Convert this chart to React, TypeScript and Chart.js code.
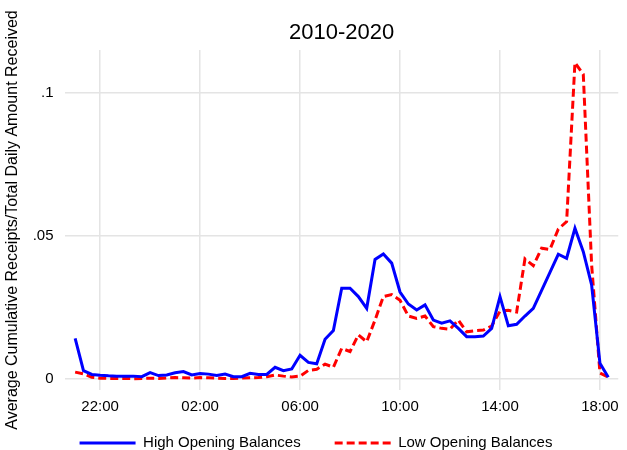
import React, { useEffect, useRef } from "react";
import { Chart, registerables } from "chart.js";

Chart.register(...registerables);

const chartTitle = "2010-2020";
const yAxisTitle = "Average Cumulative Receipts/Total Daily Amount Received";

const times = [
  "21:00", "21:20", "21:40", "22:00", "22:20", "22:40", "23:00", "23:20", "23:40",
  "00:00", "00:20", "00:40", "01:00", "01:20", "01:40", "02:00", "02:20", "02:40",
  "03:00", "03:20", "03:40", "04:00", "04:20", "04:40", "05:00", "05:20", "05:40",
  "06:00", "06:20", "06:40", "07:00", "07:20", "07:40", "08:00", "08:20", "08:40",
  "09:00", "09:20", "09:40", "10:00", "10:20", "10:40", "11:00", "11:20", "11:40",
  "12:00", "12:20", "12:40", "13:00", "13:20", "13:40", "14:00", "14:20", "14:40",
  "15:00", "15:20", "15:40", "16:00", "16:20", "16:40", "17:00", "17:20", "17:40",
  "18:00", "18:20",
];

const highOpening = [
  0.0142, 0.0029, 0.0016, 0.0013, 0.0011, 0.0010, 0.0010, 0.0010, 0.0008,
  0.0022, 0.0012, 0.0014, 0.0022, 0.0026, 0.0014, 0.0019, 0.0017, 0.0012,
  0.0017, 0.0008, 0.0008, 0.0020, 0.0016, 0.0016, 0.0041, 0.0029, 0.0035,
  0.0083, 0.0058, 0.0053, 0.0139, 0.0169, 0.0317, 0.0317, 0.0288, 0.0247,
  0.0418, 0.0437, 0.0405, 0.0304, 0.0262, 0.0241, 0.0259, 0.0206, 0.0195,
  0.0203, 0.0177, 0.0148, 0.0148, 0.0150, 0.0177, 0.0288, 0.0186, 0.0191,
  0.0220, 0.0247, 0.0310, 0.0373, 0.0436, 0.0422, 0.0527, 0.0445, 0.0329,
  0.0055, 0.0006,
];

const lowOpening = [
  0.0024, 0.0018, 0.0006, 0.0003, 0.0002, 0.0002, 0.0002, 0.0001, 0.0002,
  0.0003, 0.0002, 0.0004, 0.0005, 0.0004, 0.0003, 0.0005, 0.0004, 0.0003,
  0.0002, 0.0002, 0.0003, 0.0004, 0.0005, 0.0008, 0.0014, 0.0010, 0.0007,
  0.0010, 0.0030, 0.0034, 0.0052, 0.0041, 0.0107, 0.0096, 0.0154, 0.0130,
  0.0206, 0.0288, 0.0295, 0.0275, 0.0220, 0.0212, 0.0220, 0.0183, 0.0177,
  0.0174, 0.0206, 0.0165, 0.0169, 0.0171, 0.0185, 0.0237, 0.0240, 0.0234,
  0.0420, 0.0396, 0.0457, 0.0453, 0.0524, 0.0550, 0.1106, 0.1065, 0.0400,
  0.0021, 0.0006,
];

const xTickLabels = ["22:00", "02:00", "06:00", "10:00", "14:00", "18:00"];
const yTickValues = [0, 0.05, 0.1];
const yTickLabels = ["0", ".05", ".1"];

// Convert "HH:MM" to hours on a continuous axis starting in the evening (21:00 -> 21, 02:00 -> 26)
const toHours = (s: string) => {
  const [h, m] = s.split(":").map(Number);
  const v = h + m / 60;
  return v < 20 ? v + 24 : v;
};

const FONT = "'Liberation Sans', Arial, Helvetica, sans-serif";

// Moves the legend up under the axis labels (keeps wide horizontal item spacing)
const legendPlace = {
  id: "legendPlace",
  afterLayout(chart: any) {
    const lg = chart.legend;
    if (!lg) return;
    const pad = lg.options.labels.padding;
    const fontSize = lg.options.labels.font.size;
    const targetCenter = 443;
    const newTop = targetCenter - pad - fontSize / 2;
    const dy = newTop - lg.top;
    lg.top += dy;
    lg.bottom += dy;
    lg.left += 4;
    lg.right += 4;
  },
};

export default function App() {
  const ref = useRef<HTMLCanvasElement | null>(null);

  useEffect(() => {
    if (!ref.current) return;
    const xs = times.map(toHours);
    const xTickValues = xTickLabels.map(toHours);
    const chart = new Chart(ref.current, {
      type: "line",
      data: {
        datasets: [
          {
            label: "High Opening Balances",
            data: xs.map((x, i) => ({ x, y: highOpening[i] })),
            borderColor: "#0000ff",
            backgroundColor: "#0000ff",
            borderWidth: 3,
            pointRadius: 0,
            tension: 0,
            fill: false,
          },
          {
            label: "Low Opening Balances",
            data: xs.map((x, i) => ({ x, y: lowOpening[i] })),
            borderColor: "#ff0000",
            backgroundColor: "#ff0000",
            borderWidth: 3,
            borderDash: [8, 4],
            pointRadius: 0,
            tension: 0,
            fill: false,
          },
        ],
      },
      options: {
        animation: false,
        responsive: false,
        devicePixelRatio: 1,
        layout: { padding: { left: 0, right: 3, top: 0, bottom: -29 } },
        plugins: {
          title: {
            display: true,
            text: chartTitle,
            fullSize: false,
            color: "#000",
            font: { family: FONT, size: 22, weight: "normal", lineHeight: 1.2 },
            padding: { top: 20, bottom: 3.6 },
          },
          legend: {
            display: true,
            position: "bottom",
            labels: {
              usePointStyle: true,
              pointStyle: "line",
              pointStyleWidth: 56,
              boxWidth: 56,
              padding: 34,
              color: "#000",
              font: { family: FONT, size: 15 },
              generateLabels: (chart: any) => {
                const items = Chart.defaults.plugins.legend.labels.generateLabels(chart);
                items.forEach((it: any) => {
                  const ds = chart.data.datasets[it.datasetIndex];
                  it.lineDash = ds.borderDash || [];
                  it.lineWidth = ds.borderWidth;
                  it.strokeStyle = ds.borderColor;
                  it.pointStyle = "line";
                });
                return items;
              },
            },
          },
          tooltip: { enabled: false },
        },
        scales: {
          x: {
            type: "linear",
            min: 20.594,
            max: 42.733,
            border: { display: false },
            grid: { color: "#e4e4e4", lineWidth: 1.5, drawTicks: false },
            afterBuildTicks: (scale: any) => {
              scale.ticks = xTickValues.map((v) => ({ value: v }));
            },
            afterFit: (scale: any) => {
              scale.height = 30;
            },
            ticks: {
              padding: 8,
              color: "#000",
              maxRotation: 0,
              font: { family: FONT, size: 15 },
              callback: (v: any) => {
                const i = xTickValues.indexOf(Number(v));
                return i >= 0 ? xTickLabels[i] : "";
              },
            },
          },
          y: {
            type: "linear",
            min: -0.00385,
            max: 0.115,
            border: { display: false },
            grid: { color: "#e4e4e4", lineWidth: 1.5, drawTicks: false },
            afterBuildTicks: (scale: any) => {
              scale.ticks = yTickValues.map((v) => ({ value: v }));
            },
            afterFit: (scale: any) => {
              scale.width = 65;
            },
            ticks: {
              padding: 11.5,
              color: "#000",
              font: { family: FONT, size: 15 },
              callback: (v: any) => {
                const i = yTickValues.indexOf(Number(v));
                return i >= 0 ? yTickLabels[i] : "";
              },
            },
            title: {
              display: true,
              text: yAxisTitle,
              color: "#000",
              font: { family: FONT, size: 16, lineHeight: 1.2 },
              padding: { top: 3, bottom: 0 },
            },
          },
        },
      },
      plugins: [legendPlace],
    } as any);
    return () => chart.destroy();
  }, []);

  return (
    <div style={{ position: "absolute", left: 0, top: 0, width: 627, height: 450, background: "#fff" }}>
      <canvas ref={ref} width={627} height={450} style={{ display: "block", width: 627, height: 450 }} />
    </div>
  );
}
